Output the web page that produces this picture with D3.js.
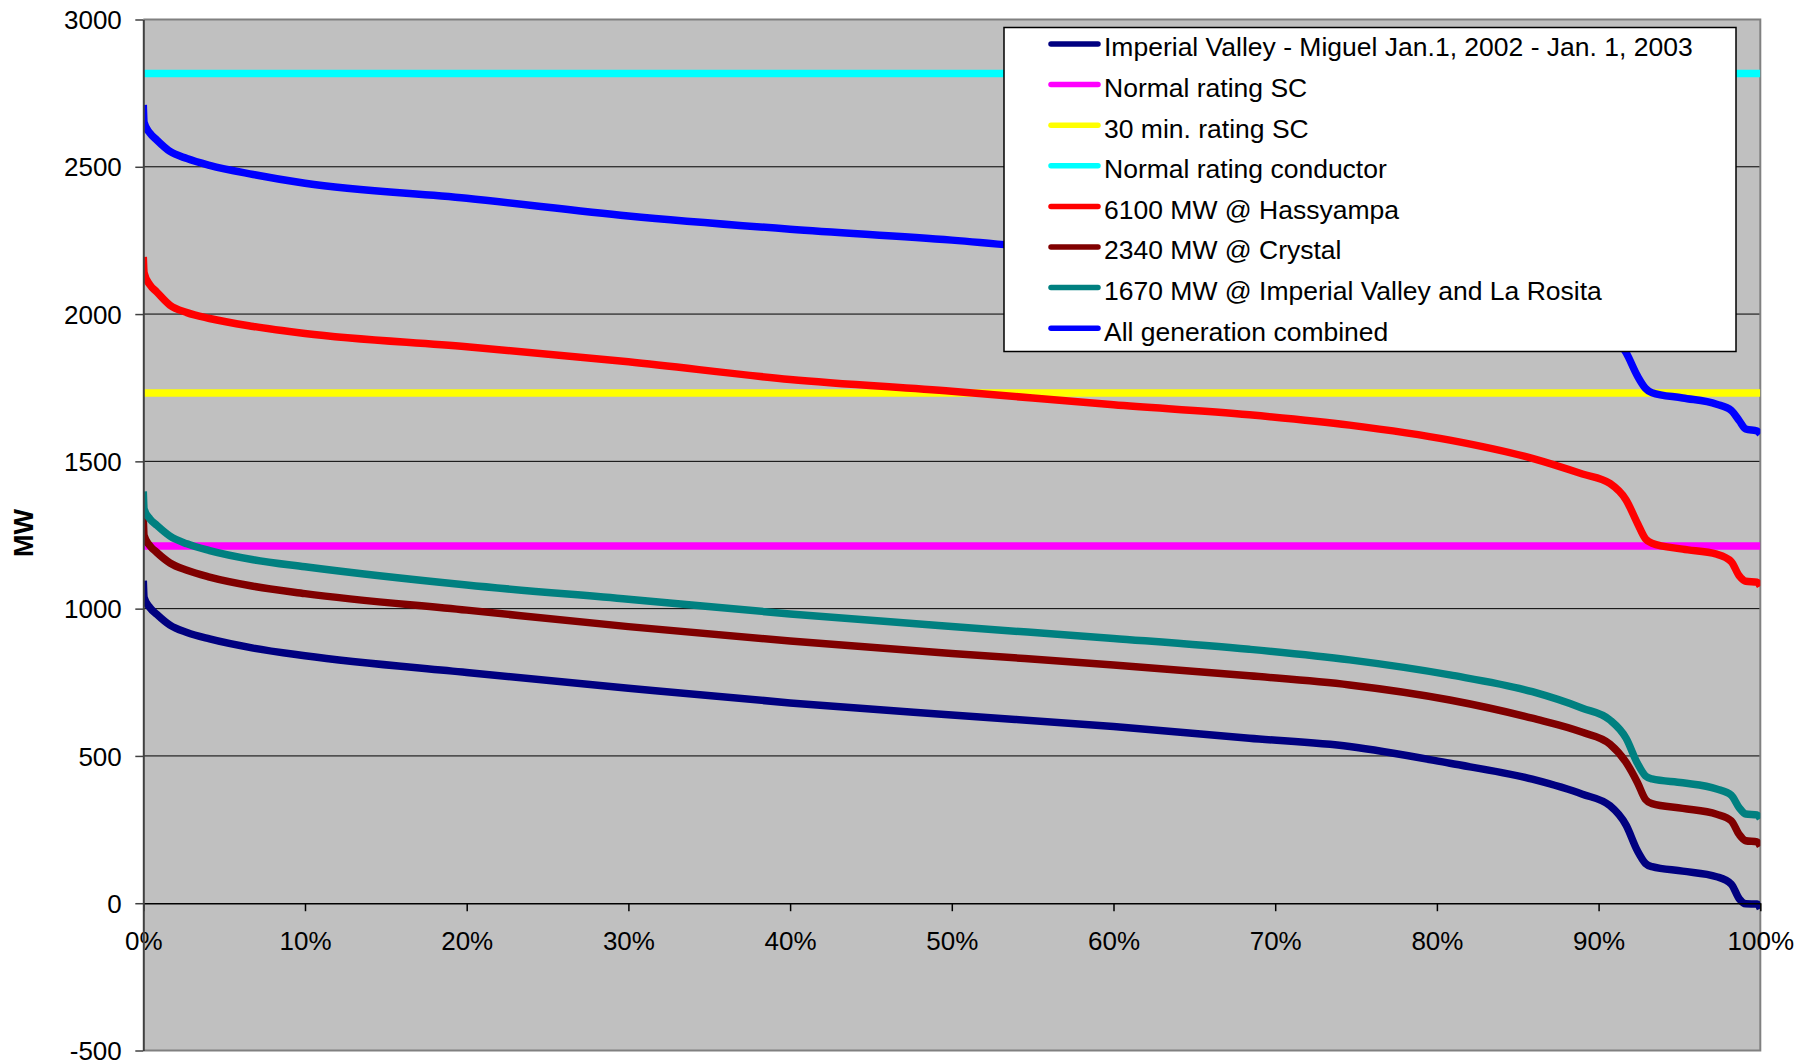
<!DOCTYPE html>
<html><head><meta charset="utf-8">
<script src="https://cdn.jsdelivr.net/npm/d3@7/dist/d3.min.js"></script>
<style>
html,body{margin:0;padding:0;background:#fff;}
svg{display:block;font-family:"Liberation Sans",Arial,sans-serif;}
</style></head>
<body>
<svg id="chart" width="1797" height="1064"></svg>
<script>
// ---- data ----
const seriesNames = [
  "Imperial Valley - Miguel Jan.1, 2002 - Jan. 1, 2003",
  "Normal rating SC",
  "30 min. rating SC",
  "Normal rating conductor",
  "6100 MW @ Hassyampa",
  "2340 MW @ Crystal",
  "1670 MW @ Imperial Valley and La Rosita",
  "All generation combined"
];
const seriesColors = ["#000080","#FF00FF","#FFFF00","#00FFFF","#FF0000","#800000","#008080","#0000FF"];

// percent of time (duration curve x positions)
const pct = [0, 0.05, 0.4, 0.83, 1.65, 2.7, 4.1, 6.8, 10, 20, 30, 40, 50, 60, 68.4, 74.6, 80.8, 85.9, 89, 90.7, 91.7, 92.4, 92.9, 93.3, 95.2, 97.3, 98.2, 98.7, 99.1, 99.8, 100];
const ivMiguel   = [1095, 1038, 1004, 981, 944, 919, 897, 866, 840, 783, 730, 680, 639, 600, 560, 532, 475, 421, 370, 331, 265, 178, 135, 124, 109, 90, 65, 15, -2, -3, -18];
const hassyampa  = [2194, 2140, 2100, 2075, 2030, 2005, 1985, 1958, 1934, 1889, 1838, 1778, 1738, 1692, 1658, 1623, 1572, 1510, 1457, 1425, 1369, 1290, 1237, 1222, 1202, 1185, 1160, 1111, 1093, 1090, 1076];
const crystal    = [1308, 1248, 1214, 1191, 1155, 1130, 1107, 1076, 1051, 995, 939, 890, 848, 809, 772, 741, 690, 628, 580, 540, 478, 410, 352, 338, 322, 302, 280, 233, 212, 208, 194];
const ivLaRosita = [1398, 1338, 1305, 1283, 1246, 1220, 1197, 1166, 1142, 1080, 1032, 982, 939, 899, 862, 826, 775, 718, 662, 622, 560, 475, 432, 422, 409, 388, 367, 324, 303, 300, 287];
const allGen     = [2710, 2650, 2615, 2591, 2552, 2528, 2505, 2474, 2444, 2393, 2333, 2288, 2251, 2202, 2168, 2133, 2082, 2020, 1967, 1935, 1869, 1790, 1748, 1733, 1715, 1694, 1673, 1638, 1610, 1603, 1593];

const ratingPct = [0, 100];
const normalRatingSC = [1213, 1213];
const rating30minSC = [1732, 1732];
const normalRatingConductor = [2817, 2817];

const yTicks = [-500, 0, 500, 1000, 1500, 2000, 2500, 3000];
const yTickLabels = ["-500", "0", "500", "1000", "1500", "2000", "2500", "3000"];
const xTicks = [0, 10, 20, 30, 40, 50, 60, 70, 80, 90, 100];
const xTickLabels = ["0%","10%","20%","30%","40%","50%","60%","70%","80%","90%","100%"];
const yTitle = "MW";

// ---- layout ----
const svg = d3.select("#chart");
const L = 143.3, R = 1760.3, T = 19.5, B = 1050.5;
const x = d3.scaleLinear().domain([0, 100]).range([L, R]);
const y = d3.scaleLinear().domain([-500, 3000]).range([B, T]);

// plot background
svg.append("rect").attr("x", L).attr("y", T).attr("width", R - L).attr("height", B - T).attr("fill", "#C0C0C0");

// gridlines
svg.append("g").selectAll("line").data([500, 1000, 1500, 2000, 2500]).join("line")
  .attr("x1", L).attr("x2", R).attr("y1", d => y(d)).attr("y2", d => y(d))
  .attr("stroke", "#000").attr("stroke-width", 1);

// border (top, right, bottom) gray
svg.append("path")
  .attr("d", `M${L},${T}H${R}V${B}H${L}`)
  .attr("fill", "none").attr("stroke", "#808080").attr("stroke-width", 2);

// series
const pairs = (xs, ys) => xs.map((d, i) => [d, ys[i]]);
const seriesData = [
  pairs(pct, ivMiguel),
  pairs(ratingPct, normalRatingSC),
  pairs(ratingPct, rating30minSC),
  pairs(ratingPct, normalRatingConductor),
  pairs(pct, hassyampa),
  pairs(pct, crystal),
  pairs(pct, ivLaRosita),
  pairs(pct, allGen)
];
const line = d3.line().x(d => x(d[0])).y(d => y(d[1])).curve(d3.curveMonotoneX);

svg.append("defs").append("clipPath").attr("id", "clip")
  .append("rect").attr("x", L).attr("y", T - 5).attr("width", R - L).attr("height", B - T + 10);

svg.append("g").attr("clip-path", "url(#clip)").selectAll("path").data(seriesData).join("path")
  .attr("d", line)
  .attr("fill", "none")
  .attr("stroke", (d, i) => seriesColors[i])
  .attr("stroke-width", 7.5)
  .attr("stroke-linejoin", "round");

// x axis at y=0
const xAxis = d3.axisBottom(x).tickValues(xTicks).tickFormat((d, i) => xTickLabels[i]).tickSize(8).tickSizeOuter(0);
const gx = svg.append("g").attr("transform", `translate(0,${y(0)})`).call(xAxis);
gx.select(".domain").attr("stroke", "#000").attr("stroke-width", 1.5);
gx.selectAll(".tick line").attr("stroke", "#000").attr("stroke-width", 1.5);
gx.selectAll(".tick text").attr("font-size", 26).attr("fill", "#000")
  .attr("font-family", '"Liberation Sans", Arial, sans-serif').attr("dy", null).attr("y", 47);

// y axis
const yAxis = d3.axisLeft(y).tickValues(yTicks).tickFormat((d, i) => yTickLabels[i]).tickSize(8).tickSizeOuter(0);
const gy = svg.append("g").attr("transform", `translate(${L},0)`).call(yAxis);
gy.select(".domain").attr("stroke", "#404040").attr("stroke-width", 2);
gy.selectAll(".tick line").attr("stroke", "#404040").attr("stroke-width", 1.5);
gy.selectAll(".tick text").attr("font-size", 26).attr("fill", "#000")
  .attr("font-family", '"Liberation Sans", Arial, sans-serif').attr("x", -21.5).attr("dy", "0.35em");

// y title
svg.append("text").attr("transform", "translate(33,533) rotate(-90)")
  .attr("text-anchor", "middle").attr("font-size", 27).attr("font-weight", "bold").text(yTitle);

// legend
const lg = svg.append("g");
lg.append("rect").attr("x", 1004).attr("y", 27.5).attr("width", 732).attr("height", 324)
  .attr("fill", "#fff").attr("stroke", "#000").attr("stroke-width", 1.5);
const rows = lg.selectAll("g.row").data(seriesNames).join("g").attr("class", "row")
  .attr("transform", (d, i) => `translate(0,${56.3 + i * 40.6})`);
rows.append("line").attr("x1", 1051).attr("x2", 1098).attr("y1", -12.3).attr("y2", -12.3)
  .attr("stroke", (d, i) => seriesColors[i]).attr("stroke-width", 5.5).attr("stroke-linecap", "round");
rows.append("text").attr("x", 1104).attr("y", 0).attr("font-size", 26.5).attr("fill", "#000").text(d => d);
</script>
</body></html>
